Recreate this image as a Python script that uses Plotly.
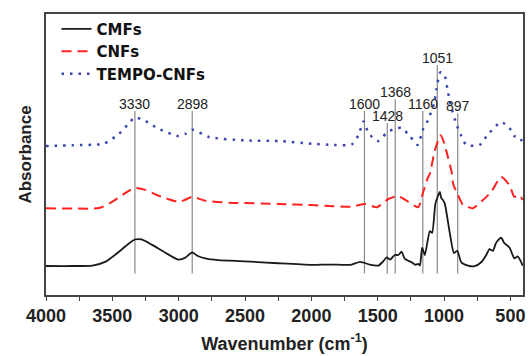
import plotly.graph_objects as go

# Wavenumber (cm-1) and absorbance (arbitrary units, offset spectra)
cmf_wn = [4000, 3800, 3650, 3550, 3450, 3380, 3330, 3280, 3200, 3100, 3000, 2950, 2898, 2860, 2800, 2700,
          2500, 2250, 2000, 1870, 1750, 1695, 1632, 1560, 1495, 1460, 1432, 1407, 1385, 1370, 1345, 1320,
          1295, 1245, 1215, 1195, 1182, 1165, 1145, 1107, 1090, 1065, 1045, 1032, 1020, 1010, 995, 957,
          925, 900, 870, 820, 770, 720, 682, 657, 632, 607, 570, 545, 507, 470, 445, 407]
cmf_ab = [0.295, 0.295, 0.30, 0.34, 0.44, 0.52, 0.565, 0.565, 0.51, 0.43, 0.36, 0.38, 0.433, 0.40, 0.373, 0.355,
          0.343, 0.323, 0.307, 0.31, 0.307, 0.31, 0.337, 0.31, 0.30, 0.34, 0.383, 0.36, 0.39, 0.407, 0.407, 0.44,
          0.367, 0.333, 0.307, 0.317, 0.30, 0.483, 0.407, 0.65, 0.633, 0.933, 1.01, 1.05, 0.983, 0.97, 0.933, 0.633,
          0.427, 0.45, 0.333, 0.30, 0.293, 0.333, 0.407, 0.467, 0.45, 0.533, 0.583, 0.527, 0.483, 0.373, 0.393, 0.30]

cnf_wn = [4000, 3800, 3600, 3500, 3400, 3330, 3250, 3150, 3000, 2950, 2898, 2800, 2620, 2245, 2000, 1870,
          1695, 1595, 1507, 1420, 1345, 1270, 1195, 1157, 1120, 1107, 1070, 1025, 1000, 970, 940, 932,
          895, 857, 782, 720, 645, 570, 507, 470, 432, 407]
cnf_ab = [0.883, 0.88, 0.885, 0.95, 1.04, 1.09, 1.07, 1.01, 0.947, 0.97, 1.00, 0.96, 0.94, 0.927, 0.915, 0.907,
          0.90, 0.927, 0.893, 0.977, 1.007, 0.95, 0.893, 1.05, 1.20, 1.233, 1.467, 1.627, 1.55, 1.40, 1.233, 1.133,
          1.017, 0.917, 0.883, 0.95, 1.05, 1.20, 1.117, 1.00, 1.017, 0.967]

tempo_wn = [4000, 3800, 3565, 3450, 3380, 3330, 3250, 3150, 3000, 2950, 2898, 2770, 2495, 2245, 1998, 1832,
            1695, 1645, 1607, 1570, 1500, 1432, 1370, 1320, 1257, 1200, 1157, 1120, 1075, 1057, 1027, 995,
            975, 950, 907, 875, 832, 732, 670, 570, 507, 470, 432, 407]
tempo_ab = [1.517, 1.525, 1.54, 1.64, 1.74, 1.807, 1.77, 1.69, 1.617, 1.64, 1.683, 1.607, 1.573, 1.567, 1.54, 1.527,
            1.533, 1.627, 1.767, 1.65, 1.567, 1.65, 1.693, 1.70, 1.617, 1.527, 1.69, 1.783, 1.95, 2.10, 2.267, 2.233,
            2.10, 1.933, 1.74, 1.633, 1.527, 1.527, 1.633, 1.76, 1.70, 1.617, 1.607, 1.55]

# Band assignments (marker lines)
band_wn = [3330, 2898, 1600, 1428, 1368, 1160, 1051, 897]
band_labels = ["3330", "2898", "1600", "1428", "1368", "1160", "1051", "897"]
band_top = [1.873, 1.873, 1.873, 1.75, 1.993, 1.873, 2.34, 1.85]
band_bottom = 0.22

x_tickvals = [4000, 3500, 3000, 2500, 2000, 1500, 1000, 500]

FONT = "Liberation Sans, Arial, sans-serif"
LEG_FONT = "DejaVu Sans, Liberation Sans, sans-serif"

fig = go.Figure()

for wn, top in zip(band_wn, band_top):
    fig.add_trace(go.Scatter(x=[wn, wn], y=[band_bottom, top], mode="lines",
                             line=dict(color="#8a8a8a", width=1.2), showlegend=False, hoverinfo="skip"))

fig.add_trace(go.Scatter(x=cmf_wn, y=cmf_ab, mode="lines", name="CMFs",
                         line=dict(color="#1a1a1a", width=1.8, shape="spline", smoothing=0.6)))
fig.add_trace(go.Scatter(x=cnf_wn, y=cnf_ab, mode="lines", name="CNFs",
                         line=dict(color="#ff2020", width=2, dash="10px,6px", shape="spline", smoothing=0.6)))
fig.add_trace(go.Scatter(x=tempo_wn, y=tempo_ab, mode="lines", name="TEMPO-CNFs",
                         line=dict(color="#3a45b0", width=2.5, dash="2.5px,6px", shape="spline", smoothing=0.6)))

for wn, top, lab in zip(band_wn, band_top, band_labels):
    fig.add_annotation(x=wn, y=top, text=lab, showarrow=False, xanchor="center", yanchor="bottom",
                       yshift=-3, font=dict(family=FONT, size=14, color="#222222"))

fig.update_layout(
    width=530, height=356,
    margin=dict(l=46, r=5, t=14, b=56),
    paper_bgcolor="white", plot_bgcolor="white",
    font=dict(family=FONT, color="#111111"),
    showlegend=True,
    legend=dict(x=0.022, y=1.005, xanchor="left", yanchor="top", bgcolor="rgba(0,0,0,0)",
                font=dict(family=LEG_FONT, size=15, color="#111111", weight="bold"), tracegroupgap=0),
    xaxis=dict(range=[4000, 405], tickvals=x_tickvals, ticktext=[str(v) for v in x_tickvals],
               ticks="outside", ticklen=4, tickwidth=1.3, tickcolor="#444444",
               minor=dict(dtick=250, ticks="outside", ticklen=4, tickwidth=1.3, tickcolor="#444444"),
               showline=True, linecolor="#444444", linewidth=1.5, mirror=True, showgrid=False, zeroline=False,
               tickfont=dict(family=FONT, size=18, color="#222222", weight="bold"),
               title=dict(text="<b>Wavenumber (cm<sup>-1</sup>)</b>", standoff=12,
                          font=dict(family=FONT, size=18, color="#222222"))),
    yaxis=dict(range=[0, 2.86], showticklabels=False, ticks="", showline=True, linecolor="#444444",
               linewidth=1.5, mirror=True, showgrid=False, zeroline=False,
               title=dict(text="<b>Absorbance</b>", standoff=8,
                          font=dict(family=FONT, size=17, color="#222222"))),
)

fig.write_html("out.html")
